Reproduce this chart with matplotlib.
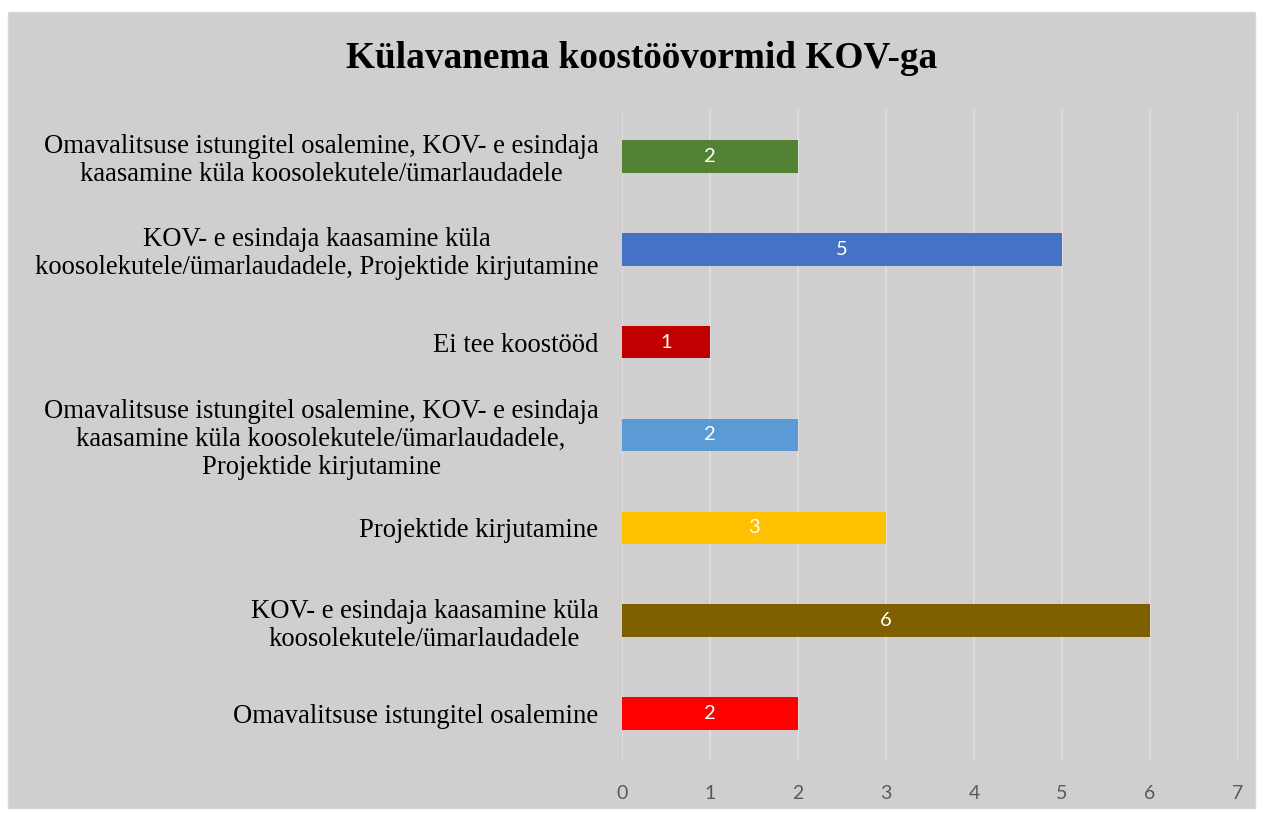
import matplotlib.pyplot as plt
from matplotlib.patches import Rectangle

# data (bottom to top, as drawn)
categories = [
    "Omavalitsuse istungitel osalemine",
    "KOV- e esindaja kaasamine küla\nkoosolekutele/ümarlaudadele",
    "Projektide kirjutamine",
    "Omavalitsuse istungitel osalemine, KOV- e esindaja\nkaasamine küla koosolekutele/ümarlaudadele,\nProjektide kirjutamine",
    "Ei tee koostööd",
    "KOV- e esindaja kaasamine küla\nkoosolekutele/ümarlaudadele, Projektide kirjutamine",
    "Omavalitsuse istungitel osalemine, KOV- e esindaja\nkaasamine küla koosolekutele/ümarlaudadele",
]
values = [2, 6, 3, 2, 1, 5, 2]
colors = ["#FF0000", "#7F6000", "#FFC000", "#5B9BD5", "#C00000", "#4472C4", "#548235"]
xticks = [0, 1, 2, 3, 4, 5, 6, 7]

bg = "#D0CECE"

fig = plt.figure(figsize=(12.63, 8.14), dpi=100)
fig.patch.set_facecolor("white")
fig.patches.append(Rectangle((8 / 1263, 6 / 814), 1247 / 1263, 796 / 814,
                             transform=fig.transFigure, facecolor=bg,
                             edgecolor="#D9D9D9", linewidth=1, zorder=-5))

ax = fig.add_axes([622 / 1263, 54 / 814, 616 / 1263, 650 / 814])
ax.patch.set_alpha(0)

y = range(len(categories))
bars = ax.barh(y, values, height=0.35, color=colors, zorder=3)
for b, v in zip(bars, values):
    ax.text(b.get_width() / 2, b.get_y() + b.get_height() / 2, str(v),
            ha="center", va="center", color="white", fontsize=14.5,
            family="Lato", zorder=4)

ax.set_xlim(0, 7)
ax.set_ylim(-0.5, len(categories) - 0.5)
ax.set_xticks(xticks)
ax.set_xticklabels([str(t) for t in xticks], fontsize=14, color="#595959",
                   family="Lato")
ax.set_yticks(list(y))
ax.set_yticklabels(categories, fontsize=19.2, family="Liberation Serif",
                   multialignment="center", linespacing=1.15)
ax.tick_params(axis="y", length=0, pad=17)
ax.tick_params(axis="x", length=0, pad=18)

ax.grid(axis="x", color="#DEDCDC", linewidth=1.5, zorder=1)
for s in ax.spines.values():
    s.set_visible(False)

fig.text(642 / 1263, 1 - 58 / 814, "Külavanema koostöövormid KOV-ga",
         ha="center", va="center", fontsize=26.8, fontweight="bold",
         family="Liberation Serif")

fig.savefig("out.png", dpi=100, facecolor=fig.get_facecolor())
